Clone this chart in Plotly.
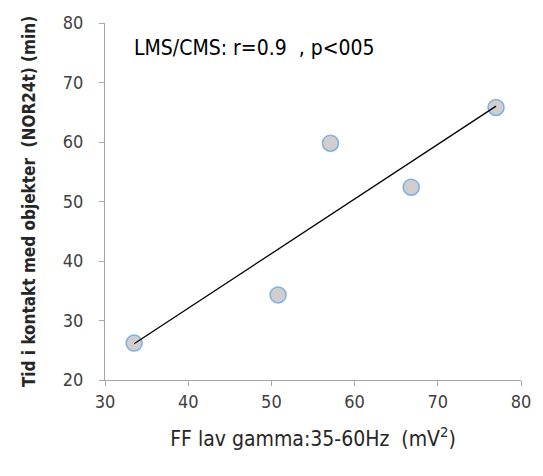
import numpy as np
import plotly.graph_objects as go

x_vals = [33.5, 50.8, 57.1, 66.8, 77.0]
y_vals = [26.2, 34.3, 59.8, 52.4, 65.8]
x_ticks = [30, 40, 50, 60, 70, 80]
y_ticks = [20, 30, 40, 50, 60, 70, 80]

slope, intercept = np.polyfit(x_vals, y_vals, 1)
fit_x = [min(x_vals), max(x_vals)]
fit_y = [slope * v + intercept for v in fit_x]

FONT = "DejaVu Sans Condensed, Liberation Sans Narrow, Roboto Condensed, sans-serif"

fig = go.Figure()
fig.add_trace(go.Scatter(x=x_vals, y=y_vals, mode="markers",
                         marker=dict(size=16, color="#d0cece",
                                     line=dict(color="#7fb0e0", width=1.5)),
                         showlegend=False))
fig.add_trace(go.Scatter(x=fit_x, y=fit_y, mode="lines",
                         line=dict(color="#000000", width=1.3), showlegend=False))

axis_common = dict(showline=True, linecolor="#a6a6a6", linewidth=1,
                   ticks="outside", tickcolor="#a6a6a6", ticklen=5,
                   showgrid=False, zeroline=False,
                   tickfont=dict(family=FONT, size=18, color="#404040"))

fig.update_layout(
    width=543, height=476,
    margin=dict(l=105, r=15, t=22, b=96),
    plot_bgcolor="white", paper_bgcolor="white",
    xaxis=dict(range=[30, 80], tickvals=x_ticks, **axis_common,
               title=dict(text="FF lav gamma:35-60Hz  (mV<sup>2</sup>)",
                          font=dict(family=FONT, size=21, color="#262626"),
                          standoff=20)),
    yaxis=dict(range=[20, 80], tickvals=y_ticks, **axis_common,
               ticklabelstandoff=12,
               title=dict(text="<b>Tid i kontakt med objekter  (NOR24t) (min)</b>",
                          font=dict(family=FONT, size=17, color="#262626"),
                          standoff=22)),
)
fig.add_annotation(text="LMS/CMS: r=0.9  , p<005", x=0.066, y=0.93, xref="paper", yref="paper",
                   xanchor="left", yanchor="middle", showarrow=False,
                   font=dict(family=FONT, size=21, color="#000000"))

fig.write_html("out.html", config={"displayModeBar": False},
               post_script="document.body.style.margin='0';")
